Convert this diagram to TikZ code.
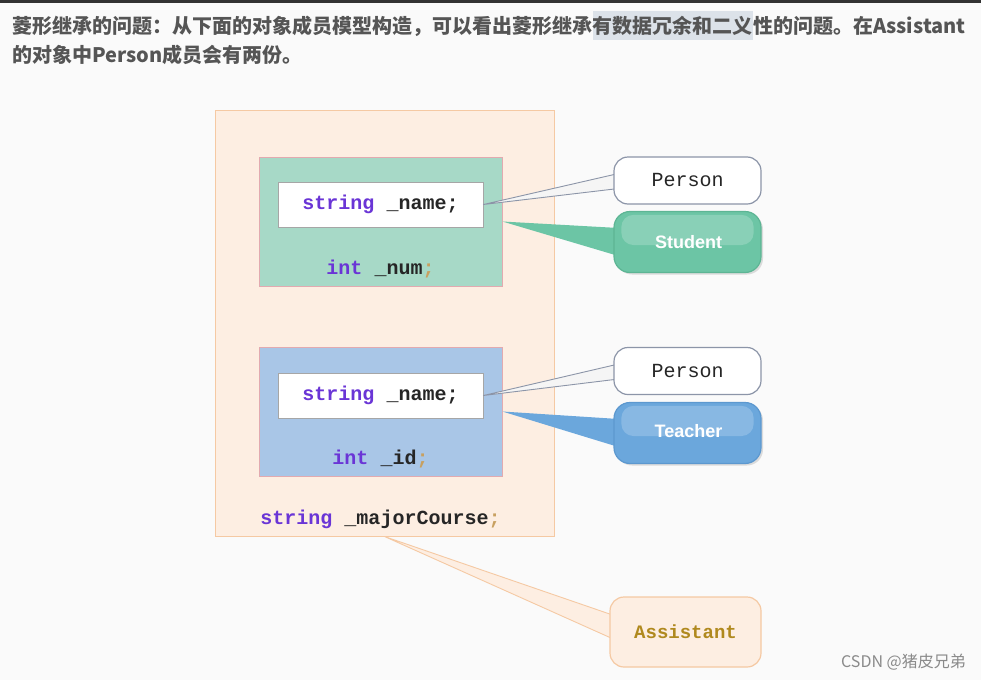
\documentclass[tikz,border=0pt]{standalone}
\usepackage{fontspec}
\setmainfont{Liberation Sans}
\newfontfamily\cjk{Noto Sans CJK SC}
\newfontfamily\code{Liberation Mono}
\usetikzlibrary{calc,shadows}
\definecolor{bgc}{HTML}{FAFAFA}
\definecolor{titlec}{HTML}{555555}
\definecolor{hlc}{HTML}{DCE2E9}
\definecolor{outerfill}{HTML}{FDEEE2}
\definecolor{outerline}{HTML}{F5C9A3}
\definecolor{greenfill}{HTML}{A7D9C7}
\definecolor{bluefill}{HTML}{A9C6E7}
\definecolor{boxline}{HTML}{E2AAB0}
\definecolor{kw}{HTML}{6A35D6}
\definecolor{idc}{HTML}{262626}
\definecolor{semi}{HTML}{C8A060}
\definecolor{persline}{HTML}{8C95A8}
\definecolor{stufill}{HTML}{6CC5A5}
\definecolor{stuline}{HTML}{5DB594}
\definecolor{teafill}{HTML}{6BA7DC}
\definecolor{tealine}{HTML}{5C98CF}
\definecolor{asstext}{HTML}{B0891E}
\definecolor{wmc}{HTML}{8A8A8A}
\tikzset{
  titletext/.style={inner sep=0pt, text=titlec, font=\cjk\bfseries\fontsize{20}{24}\selectfont},
  codetext/.style={inner sep=0pt, font=\code\bfseries\fontsize{20}{24}\selectfont, text=idc},
  outerbox/.style={draw=outerline, fill=outerfill, line width=1pt, minimum width=339pt, minimum height=426pt, inner sep=0pt},
  classbox/.style={draw=boxline, line width=0.8pt, minimum width=243pt, minimum height=129pt, inner sep=0pt},
  namebox/.style={draw=gray!70, fill=white, line width=0.8pt, minimum width=205pt, minimum height=45pt, inner sep=0pt},
  personcall/.style={draw=persline, fill=white, line width=1.2pt, rounded corners=14pt, minimum width=147pt, minimum height=47pt, font=\code\fontsize{20}{24}\selectfont, text=idc},
  colorcall/.style={line width=1.2pt, rounded corners=16pt, minimum width=147pt, minimum height=61pt, text=white, drop shadow={shadow xshift=2pt, shadow yshift=-2pt, opacity=0.25}},
  calltext/.style={font=\bfseries\fontsize{18}{22}\selectfont, text=white, inner sep=0pt},
  gloss/.style={white, opacity=0.2, rounded corners=12pt},
  tailgray/.style={draw=persline, fill=white!92!gray, line width=0.9pt, line join=round},
}
\begin{document}
\begin{tikzpicture}[x=1pt,y=-1pt]
\fill[bgc] (0,0) rectangle (981,680);
\useasboundingbox (0,0) rectangle (981,680);
\fill[black!80] (0,0) rectangle (981,2.5);

% title
\node[titletext, anchor=base west] (t1) at (12,33) {菱形继承的问题：从下面的对象成员模型构造，可以看出菱形继承};
\node[titletext, anchor=base west, fill=hlc, inner ysep=5pt, inner xsep=0pt] (t2) at (t1.base east) {有数据冗余和二义};
\node[titletext, anchor=base west] (t3) at (t2.base east) {性的问题。在Assistant};
\node[titletext, anchor=base west] (t4) at (12,62) {的对象中Person成员会有两份。};

% outer object
\node[outerbox] (outer) at (384.5,323) {};
\node[classbox, fill=greenfill] (green) at (380.5,221.5) {};
\node[namebox] (white1) at (380.5,204.5) {};
\node[codetext] (name1) at (white1.center) {\textcolor{kw}{string} \_name;};
\node[codetext] (num) at (380.5,269) {\textcolor{kw}{int} \_num\textcolor{semi}{;}};

\node[classbox, fill=bluefill] (blue) at (380.5,411.5) {};
\node[namebox] (white2) at (380.5,395.5) {};
\node[codetext] (name2) at (white2.center) {\textcolor{kw}{string} \_name;};
\node[codetext] (idn) at (380.5,459) {\textcolor{kw}{int} \_id\textcolor{semi}{;}};

\node[codetext] (major) at (380.5,519) {\textcolor{kw}{string} \_majorCourse\textcolor{semi}{;}};

% callout coordinates
\coordinate (p1) at (687.5,180.5);
\coordinate (s1) at (687.5,242);
\coordinate (p2) at (687.5,371);
\coordinate (s2) at (687.5,433);
\coordinate (a1) at (685.5,632);

% tails
\draw[tailgray] (white1.east) -- ($(p1)+(-69,-7)$) -- ($(p1)+(-69,8)$) -- cycle;
\fill[stufill] (green.east) -- ($(s1)+(-69,-14)$) -- ($(s1)+(-69,14)$) -- cycle;
\draw[tailgray] (white2.east) -- ($(p2)+(-69,-7)$) -- ($(p2)+(-69,8)$) -- cycle;
\fill[teafill] (blue.east) -- ($(s2)+(-69,-14)$) -- ($(s2)+(-69,14)$) -- cycle;
\draw[draw=outerline, fill=outerfill, line width=0.9pt, line join=round] (outer.south) -- ($(a1)+(-70,-16)$) -- ($(a1)+(-70,8)$) -- cycle;

% callouts
\node[personcall] (person1) at (p1) {Person};
\node[colorcall, draw=stuline, fill=stufill] (student) at (s1) {};
\fill[gloss] ($(student.north west)+(8,4)$) rectangle ($(student.east)+(-8,3)$);
\node[calltext] (stutext) at ($(student.center)+(1,0)$) {Student};

\node[personcall] (person2) at (p2) {Person};
\node[colorcall, draw=tealine, fill=teafill] (teacher) at (s2) {};
\fill[gloss] ($(teacher.north west)+(8,4)$) rectangle ($(teacher.east)+(-8,3)$);
\node[calltext] (teatext) at ($(teacher.center)+(1,-2)$) {Teacher};

\node[draw=outerline, fill=outerfill, line width=1.2pt, rounded corners=14pt, minimum width=151pt, minimum height=70pt, font=\code\bfseries\fontsize{19}{23}\selectfont, text=asstext] (assistant) at (a1) {Assistant};

% watermark
\node[anchor=base east, inner sep=0pt, text=wmc, font=\cjk\fontsize{16}{19}\selectfont] (wm) at (966,667) {CSDN @猪皮兄弟};
\end{tikzpicture}
\end{document}
